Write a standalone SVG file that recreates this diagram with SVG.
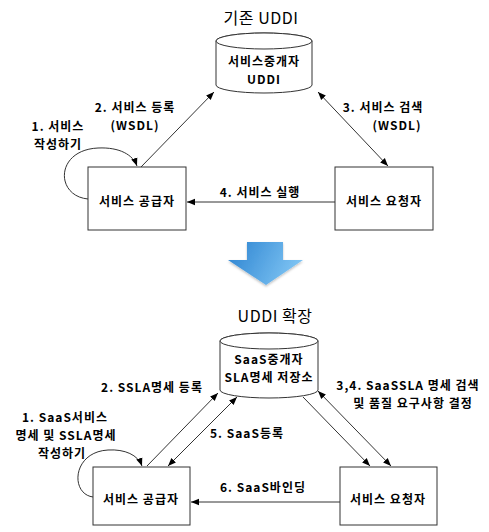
<svg xmlns="http://www.w3.org/2000/svg" width="489" height="532" viewBox="0 0 489 532">
<defs>
<marker id="ah" viewBox="0 0 10 10" refX="10" refY="5" markerWidth="8" markerHeight="8" markerUnits="userSpaceOnUse" orient="auto-start-reverse">
<path d="M0,1 L10,5 L0,9 Z" fill="#000"/>
</marker>
<linearGradient id="bg" x1="0" y1="0" x2="1" y2="0.3">
<stop offset="0" stop-color="#2a82d0"/>
<stop offset="1" stop-color="#7cc2f2"/>
</linearGradient>
<filter id="sh" x="-20%" y="-20%" width="140%" height="140%">
<feDropShadow dx="0" dy="1.5" stdDeviation="1.2" flood-color="#000" flood-opacity="0.25"/>
</filter>
</defs>
<style>
text{font-family:"Noto Sans CJK KR","Noto Sans",sans-serif;font-size:12px;font-weight:bold;letter-spacing:1px;fill:#000;text-anchor:middle}
.t{font-size:16px;font-weight:normal;letter-spacing:0.5px}
.box{fill:#fff;stroke:#333;stroke-width:1}
.cyl{fill:#fff;stroke:#333;stroke-width:1}
.ln{fill:none;stroke:#333;stroke-width:1}
</style>
<rect width="489" height="532" fill="#fff"/>

<text class="t" x="261" y="24">기존 UDDI</text>
<text class="t" x="275" y="322">UDDI 확장</text>

<g id="uddi-top">
<path class="cyl" d="M216,41 L216,85 A48,8 0 0 0 312,85 L312,41 A48,8 0 0 0 216,41 Z"/>
<ellipse class="cyl" cx="264" cy="41" rx="48" ry="8"/>
<text x="264" y="66">서비스중개자</text>
<text x="264" y="84">UDDI</text>
</g>

<g id="provider-top">
<rect class="box" x="88" y="167" width="98" height="63"/>
<text x="137" y="206">서비스 공급자</text>
</g>
<g id="requester-top">
<rect class="box" x="335" y="167" width="98" height="63"/>
<text x="384" y="206">서비스 요청자</text>
</g>

<g id="uddi-bottom">
<path class="cyl" d="M220,341 L220,390 A49,8 0 0 0 318,390 L318,341 A49,8 0 0 0 220,341 Z"/>
<ellipse class="cyl" cx="269" cy="341" rx="49" ry="8"/>
<text x="269" y="364">SaaS중개자</text>
<text x="269" y="382">SLA명세 저장소</text>
</g>

<g id="provider-bottom">
<rect class="box" x="93" y="467" width="97" height="58"/>
<text x="141" y="504">서비스 공급자</text>
</g>
<g id="requester-bottom">
<rect class="box" x="340" y="467" width="97" height="58"/>
<text x="388" y="504">서비스 요청자</text>
</g>

<g id="big-arrow">
<path d="M247,242 L283,242 L283,260 L303,260 L266,285 L228,260 L247,260 Z" fill="url(#bg)" filter="url(#sh)"/>
</g>

<g id="connectors">
<line class="ln" x1="141" y1="167" x2="214" y2="92" marker-end="url(#ah)"/>
<line class="ln" x1="318" y1="92" x2="388" y2="166" marker-start="url(#ah)" marker-end="url(#ah)"/>
<line class="ln" x1="335" y1="202" x2="187" y2="202" marker-end="url(#ah)"/>
<path class="ln" d="M88,199 C55,196 55,150 98,148 C120,147 133,155 137,166" marker-end="url(#ah)"/>

<line class="ln" x1="147" y1="466" x2="218" y2="393" marker-end="url(#ah)"/>
<line class="ln" x1="168" y1="466" x2="237" y2="397" marker-start="url(#ah)" marker-end="url(#ah)"/>
<line class="ln" x1="303" y1="397" x2="370" y2="466" marker-end="url(#ah)"/>
<line class="ln" x1="318" y1="391" x2="391" y2="466" marker-start="url(#ah)" marker-end="url(#ah)"/>
<line class="ln" x1="340" y1="502" x2="191" y2="502" marker-end="url(#ah)"/>
<path class="ln" d="M93,497 C70,494 72,452 108,450 C125,449 138,455 142,466" marker-end="url(#ah)"/>
</g>

<g id="labels">
<text x="135" y="112">2. 서비스 등록</text>
<text x="135" y="130">(WSDL)</text>
<text x="383" y="112">3. 서비스 검색</text>
<text x="397" y="130">(WSDL)</text>
<text x="58" y="131">1. 서비스</text>
<text x="58" y="149">작성하기</text>
<text x="260" y="197">4. 서비스 실행</text>

<text x="152" y="392">2. SSLA명세 등록</text>
<text x="408" y="390">3,4. SaaSSLA 명세 검색</text>
<text x="413" y="408">및 품질 요구사항 결정</text>
<text x="65" y="422">1. SaaS서비스</text>
<text x="66" y="440">명세 및 SSLA명세</text>
<text x="62" y="458">작성하기</text>
<text x="247" y="438">5. SaaS등록</text>
<text x="263" y="492">6. SaaS바인딩</text>
</g>
</svg>
